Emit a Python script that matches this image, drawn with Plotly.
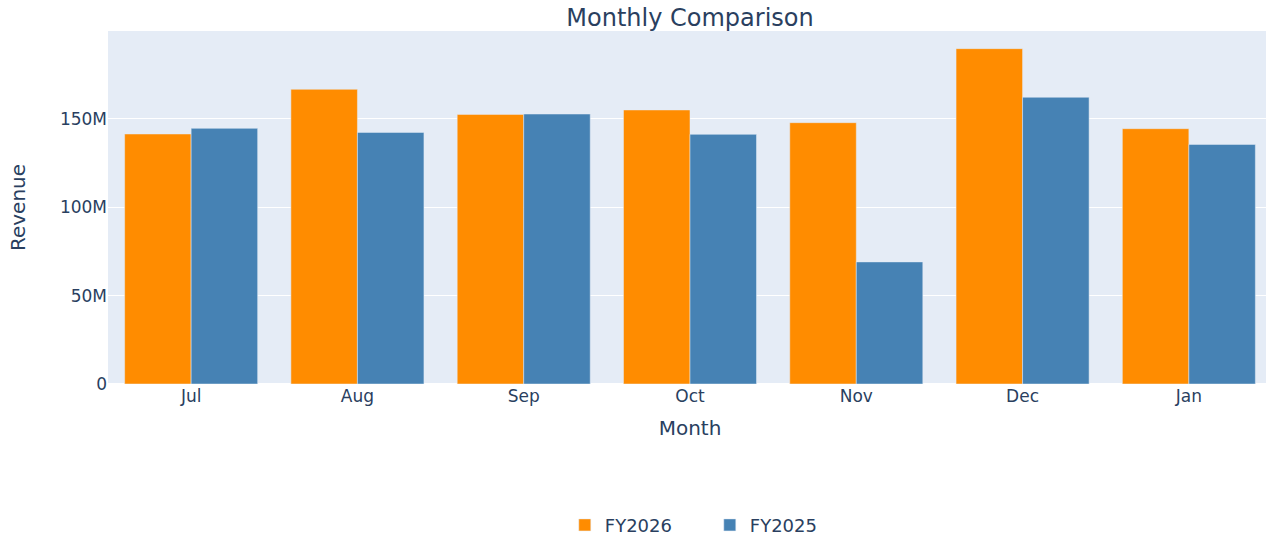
import plotly.graph_objects as go

months = ["Jul", "Aug", "Sep", "Oct", "Nov", "Dec", "Jan"]
fy2026 = [141.5e6, 166.8e6, 152.6e6, 155.1e6, 147.9e6, 189.8e6, 144.5e6]
fy2025 = [144.7e6, 142.4e6, 152.8e6, 141.3e6, 69.1e6, 162.3e6, 135.6e6]

FONT = "Verdana, DejaVu Sans, sans-serif"

fig = go.Figure()
fig.add_trace(go.Bar(name="FY2026", x=months, y=fy2026, marker_color="#FF8C00"))
fig.add_trace(go.Bar(name="FY2025", x=months, y=fy2025, marker_color="#4682B4"))

fig.update_layout(
    template="plotly",
    barmode="group",
    width=1272,
    height=537,
    font=dict(family=FONT, size=17, color="#2a3f5f"),
    title=dict(text="Monthly Comparison", x=0.5, xref="paper", xanchor="center",
               y=1 - 18 / 537, yanchor="middle", font=dict(size=24)),
    margin=dict(l=108, r=0, t=31, b=153, autoexpand=False),
    xaxis=dict(title=dict(text="Month", font=dict(size=20)), tickfont=dict(size=17)),
    yaxis=dict(title=dict(text="Revenue", font=dict(size=20), standoff=28),
               tickfont=dict(size=17), automargin=True),
    legend=dict(orientation="h", x=0.517, xanchor="center", y=-0.40, yanchor="middle",
                font=dict(size=18), entrywidth=100),
)

fig.write_html(
    "out.html",
    config={"displayModeBar": False},
    post_script="document.body.style.margin='0';document.body.style.overflow='hidden';",
)
